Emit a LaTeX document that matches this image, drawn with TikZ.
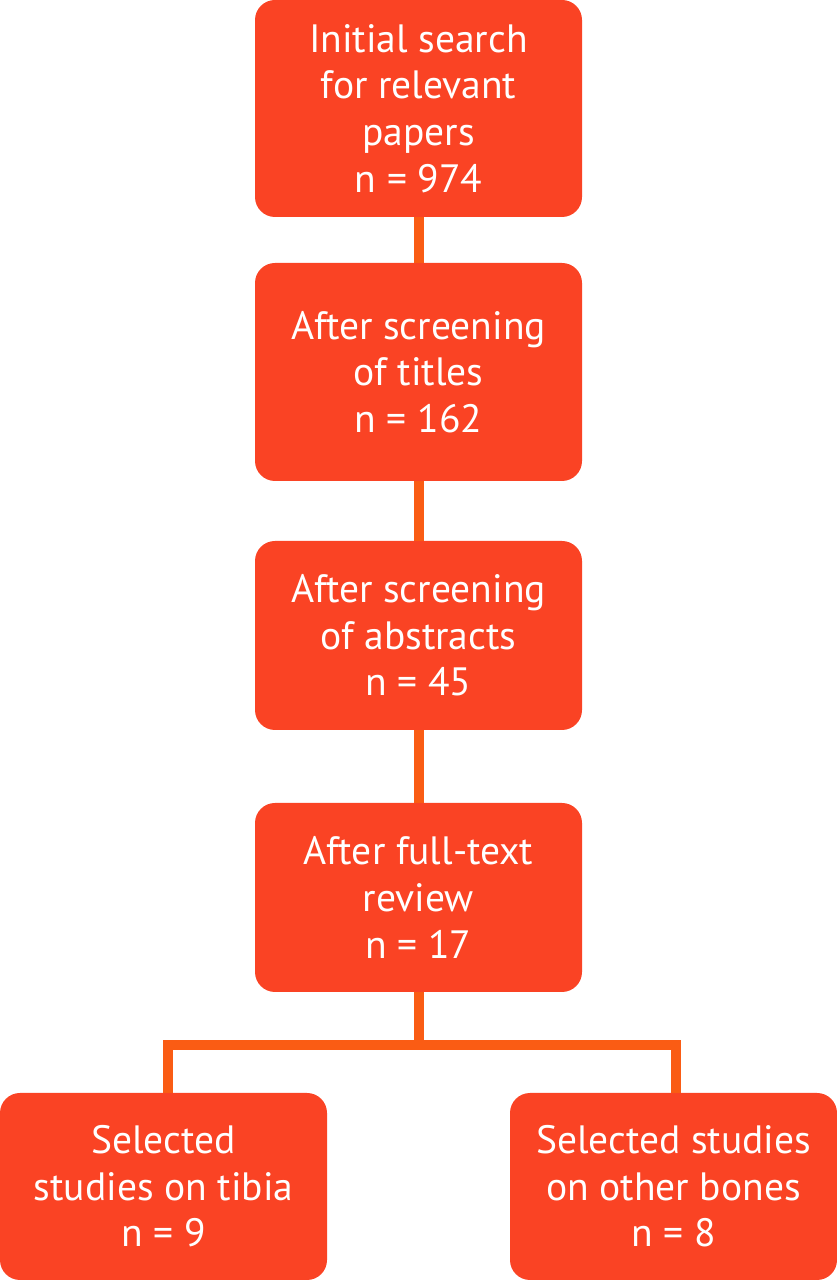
\documentclass[tikz,border=0pt]{standalone}
\usepackage{fontspec}
\setmainfont{PT Sans}
\usepackage{tikz}
\usetikzlibrary{calc}
\usepackage{xcolor}
\definecolor{boxred}{RGB}{250, 67, 36}
\definecolor{linkorange}{RGB}{250, 92, 20}
\tikzset{
  stagebox/.style={fill=boxred, text=white, rounded corners=0.4cm, minimum width=6.54cm, align=center, inner sep=0pt, font=\fontsize{22.5}{26.5}\selectfont},
  link/.style={draw=linkorange, line width=0.2cm}
}

\begin{document}
\begin{tikzpicture}
      \useasboundingbox (0, 0) rectangle (16.74, 25.6);
      \node[stagebox, minimum height=4.34cm] (search) at (8.37, 23.43) {Initial search\\for relevant\\papers\\n = 974};
      \node[stagebox, minimum height=4.36cm] (titles) at (8.37, 18.16) {After screening\\of titles\\n = 162};
      \node[stagebox, minimum height=3.78cm] (abstracts) at (8.37, 12.89) {After screening\\of abstracts\\n = 45};
      \node[stagebox, minimum height=3.78cm] (fulltext) at (8.37, 7.65) {After full-text\\review\\n = 17};
      \node[stagebox, minimum height=3.74cm] (tibia) at (3.27, 1.87) {Selected\\studies on tibia\\n = 9};
      \node[stagebox, minimum height=3.74cm] (other) at (13.47, 1.87) {Selected studies\\on other bones\\n = 8};
      \coordinate (split) at (8.37, 4.7);

      \draw[link] (search) -- (titles);
      \draw[link] (titles) -- (abstracts);
      \draw[link] (abstracts) -- (fulltext);
      \draw[link] (fulltext) -- (split);
      \draw[link] (split) -| ($(tibia.north)+(0.09,0)$);
      \draw[link] (split) -| ($(other.north)+(0.05,0)$);
    \end{tikzpicture}
\end{document}
